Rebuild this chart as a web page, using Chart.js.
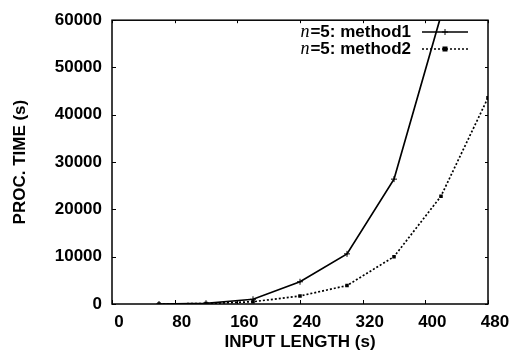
<!DOCTYPE html>
<html>
<head>
<meta charset="utf-8">
<script src="https://cdn.jsdelivr.net/npm/chart.js@4/dist/chart.umd.min.js"></script>
<style>
  html, body { margin: 0; padding: 0; background: #fff; }
  #wrap { width: 524px; height: 356px; }
</style>
</head>
<body>
<div id="wrap"><canvas id="c" width="524" height="356"></canvas></div>
<script>
// 入力長と処理時間
const inputLength = [60, 120, 180, 240, 300, 360, 420, 480];
const method1 = [0, 150, 1000, 4700, 10600, 26400, 61000, null];
const method2 = [0, 100, 480, 1700, 3900, 10000, 22800, 43600];
const seriesLabels = ['method1', 'method2'];
const xTicks = [0, 80, 160, 240, 320, 400, 480];
const yTicks = [0, 10000, 20000, 30000, 40000, 50000, 60000];

const FONT = '"Liberation Sans", Arial, Helvetica, sans-serif';
const toPoints = (ys) => inputLength.map((x, i) => ({ x: x, y: ys[i] }));

// 枠線と内向きの目盛り、凡例を描く
const framePlugin = {
  id: 'frame',
  afterDatasetsDraw(chart) {
    const { ctx, chartArea: a, scales } = chart;
    ctx.save();
    ctx.strokeStyle = '#000';
    ctx.lineWidth = 1.5;
    ctx.strokeRect(a.left, a.top, a.right - a.left, a.bottom - a.top);

    ctx.lineWidth = 1;
    ctx.beginPath();
    yTicks.forEach(v => {
      const y = Math.round(scales.y.getPixelForValue(v)) + 0.5;
      ctx.moveTo(a.left, y); ctx.lineTo(a.left + 4, y);
      ctx.moveTo(a.right, y); ctx.lineTo(a.right - 3, y);
    });
    xTicks.forEach(v => {
      const x = Math.round(scales.x.getPixelForValue(v)) + 0.5;
      ctx.moveTo(x, a.bottom); ctx.lineTo(x, a.bottom - 4);
      ctx.moveTo(x, a.top); ctx.lineTo(x, a.top + 3);
    });
    ctx.stroke();

    // 凡例
    const textRight = 411;
    const lineL = 422, lineR = 468;
    chart.data.datasets.forEach((ds, i) => {
      const y = 32 + i * 17;
      ctx.textBaseline = 'middle';
      ctx.textAlign = 'right';
      ctx.fillStyle = '#000';
      ctx.font = 'bold 17px ' + FONT;
      const rest = '=5: ' + seriesLabels[i];
      const w = ctx.measureText(rest).width;
      ctx.fillText(rest, textRight, y);
      ctx.font = 'italic 18px "Liberation Serif", "Times New Roman", serif';
      ctx.fillText('n', textRight - w - 1, y);

      ctx.beginPath();
      ctx.setLineDash(ds.borderDash || []);
      ctx.lineWidth = ds.borderWidth;
      ctx.moveTo(lineL, y); ctx.lineTo(lineR, y);
      ctx.stroke();
      ctx.setLineDash([]);
      const mx = (lineL + lineR) / 2;
      if (ds.pointStyle === 'rect') {
        ctx.fillRect(mx - 2.5, y - 2.5, 5, 5);
      } else {
        ctx.lineWidth = 1;
        ctx.beginPath();
        ctx.moveTo(mx - 3, y); ctx.lineTo(mx + 3, y);
        ctx.moveTo(mx, y - 3); ctx.lineTo(mx, y + 3);
        ctx.stroke();
      }
    });
    ctx.restore();
  }
};

new Chart(document.getElementById('c'), {
  type: 'line',
  data: {
    datasets: [
      {
        label: 'n=5: ' + seriesLabels[0],
        data: toPoints(method1),
        borderColor: '#000',
        backgroundColor: '#000',
        borderWidth: 1.7,
        pointStyle: 'cross',
        pointRadius: 3,
        pointBorderWidth: 1,
        tension: 0
      },
      {
        label: 'n=5: ' + seriesLabels[1],
        data: toPoints(method2),
        borderColor: '#000',
        backgroundColor: '#000',
        borderWidth: 1.7,
        borderDash: [2, 2],
        pointStyle: 'rect',
        pointRadius: 2.5,
        pointBorderWidth: 0,
        tension: 0
      }
    ]
  },
  options: {
    responsive: false,
    animation: false,
    layout: { padding: { top: 17, right: 36, left: 0, bottom: 0 } },
    plugins: { legend: { display: false }, tooltip: { enabled: false } },
    scales: {
      x: {
        type: 'linear',
        min: 0, max: 480,
        afterBuildTicks: (s) => { s.ticks = xTicks.map(v => ({ value: v })); },
        afterFit: (s) => { s.height = 52; },
        grid: { display: false, drawTicks: false },
        border: { display: false },
        ticks: {
          padding: 8,
          labelOffset: 7,
          color: '#000',
          maxRotation: 0,
          callback: (v) => String(v),
          font: { family: FONT, size: 17, weight: 'bold' }
        },
        title: {
          display: true,
          text: 'INPUT LENGTH (s)',
          color: '#000',
          padding: { top: 0, bottom: 3 },
          font: { family: FONT, size: 17, weight: 'bold' }
        }
      },
      y: {
        min: 0, max: 60000,
        afterBuildTicks: (s) => { s.ticks = yTicks.map(v => ({ value: v })); },
        afterFit: (s) => { s.width = 112; },
        grid: { display: false, drawTicks: false },
        border: { display: false },
        ticks: {
          padding: 10,
          color: '#000',
          callback: (v) => String(v),
          font: { family: FONT, size: 17, weight: 'bold' }
        },
        title: {
          display: true,
          text: 'PROC. TIME (s)',
          color: '#000',
          padding: { top: 10, bottom: 0 },
          font: { family: FONT, size: 17, weight: 'bold' }
        }
      }
    }
  },
  plugins: [framePlugin]
});
</script>
</body>
</html>
